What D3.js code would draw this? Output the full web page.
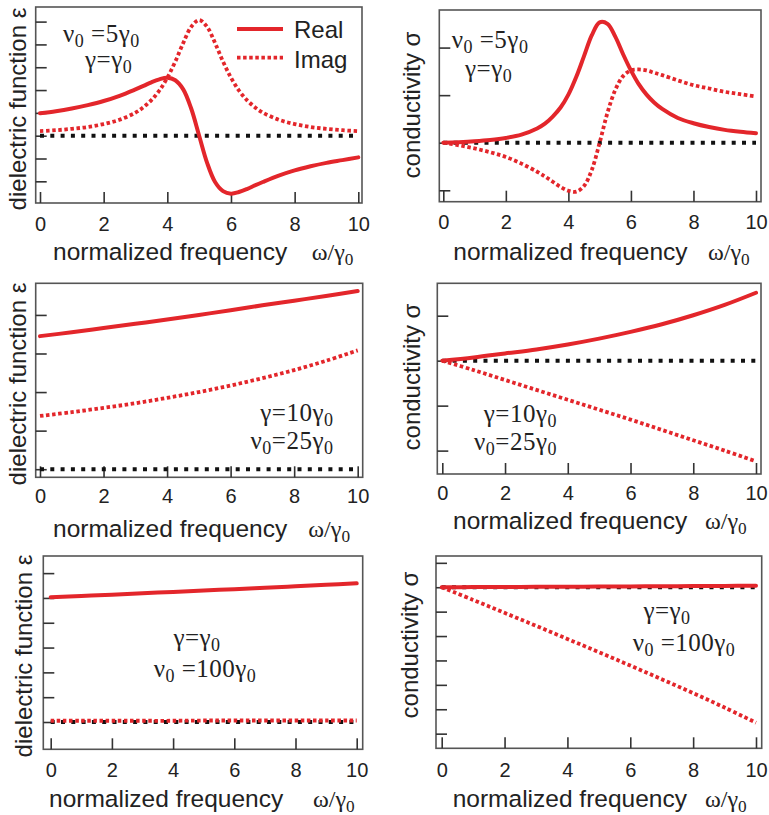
<!DOCTYPE html>
<html><head><meta charset="utf-8">
<script src="https://cdn.jsdelivr.net/npm/d3@7"></script>
<style>
html,body{margin:0;padding:0;background:#fff;}
svg{display:block;}
</style></head>
<body>
<svg id="chart" width="769" height="815"></svg>
<script>
// ---------- data (y in tick units) ----------
const xTickValues = [0, 2, 4, 6, 8, 10];
const xTickLabels = ["0", "2", "4", "6", "8", "10"];

// case A: nu0 = 5 gamma0, gamma = gamma0
const freqA = [0,0.5,1,1.5,2,2.5,3,3.25,3.5,3.75,4,4.25,4.5,4.75,5,5.25,5.5,5.75,6,6.25,6.5,6.75,7,7.5,8,8.5,9,9.5,10];
const epsRealA = [0.98,1.07,1.19,1.34,1.52,1.75,2.03,2.18,2.34,2.47,2.54,2.43,2.03,1.19,0,-1.19,-2.03,-2.43,-2.54,-2.47,-2.34,-2.18,-2.03,-1.75,-1.52,-1.34,-1.19,-1.07,-0.95];
const epsImagA = [0.20,0.24,0.30,0.38,0.51,0.70,1.01,1.25,1.56,1.98,2.54,3.25,4.06,4.77,5.07,4.77,4.06,3.25,2.54,1.98,1.56,1.25,1.01,0.70,0.51,0.38,0.30,0.24,0.20];
const sigRealA = [0,0.012,0.030,0.057,0.10,0.17,0.30,0.40,0.55,0.74,1.01,1.38,1.82,2.26,2.53,2.50,2.23,1.86,1.52,1.23,1.01,0.84,0.71,0.52,0.41,0.33,0.27,0.23,0.20];
const sigImagA = [0,-0.054,-0.12,-0.20,-0.30,-0.44,-0.61,-0.71,-0.82,-0.93,-1.01,-1.03,-0.91,-0.57,0,0.63,1.11,1.40,1.52,1.54,1.52,1.47,1.42,1.31,1.21,1.14,1.07,1.02,0.97];

// case B: gamma = 10 gamma0, nu0 = 25 gamma0
const freqB = [0,1,2,3,4,5,6,7,8,9,10];
const epsRealB = [3.45,3.55,3.66,3.77,3.88,4.00,4.12,4.25,4.37,4.49,4.62];
const epsImagB = [1.38,1.48,1.59,1.71,1.85,2.00,2.17,2.36,2.57,2.81,3.08];
const sigRealB = [0,0.07,0.16,0.25,0.36,0.49,0.64,0.81,1.01,1.24,1.51];
const sigImagB = [0,-0.21,-0.43,-0.65,-0.87,-1.09,-1.31,-1.54,-1.77,-2.00,-2.24];

// case C: gamma = gamma0, nu0 = 100 gamma0
const freqC = [0,1,2,3,4,5,6,7,8,9,10];
const epsRealC = [5.03,5.08,5.13,5.19,5.24,5.30,5.35,5.41,5.47,5.53,5.59];
const epsImagC = [0.05,0.05,0.05,0.05,0.05,0.06,0.06,0.06,0.06,0.06,0.06];
const sigRealC = [0,0.005,0.010,0.016,0.022,0.028,0.034,0.040,0.047,0.054,0.062];
const sigImagC = [0,-0.52,-1.05,-1.58,-2.12,-2.66,-3.21,-3.77,-4.34,-4.93,-5.55];

const yTicksA_eps = [-2,-1,0,1,2,3,4,5];
const yTicksA_sig = [-1,0,1,2];
const yTicksB_eps = [0,1,2,3,4];
const yTicksB_sig = [-2,-1,0,1];
const yTicksC_eps = [0,1,2,3,4,5,6];
const yTicksC_sig = [-6,-5,-4,-3,-2,-1,0,1];

const legendLabels = ["Real", "Imag"];

// ---------- layout ----------
const RED = "#e3262b";
const svg = d3.select("#chart");

const panels = [
  {frame:[35.7,362,7,203], x0:40, x10:358.3, ydom:[-2.95,5.64], freq:freqA, re:epsRealA, im:epsImagA, yticks:yTicksA_eps,
   ylab:"dielectric function ε", ylabX:25.5, ylabY:109, tickBase:231, axBase:260, axX:53, omX:311.7,
   notes:[{x:63,y:42,anchor:"start",parts:[["ν",0],["0",1],[" =5γ",0],["0",1]]},{x:85,y:68,anchor:"start",parts:[["γ=γ",0],["0",1]]}], legend:true},
  {frame:[439.3,761,10,201.7], x0:443.3, x10:756, ydom:[-1.24,2.79], freq:freqA, re:sigRealA, im:sigImagA, yticks:yTicksA_sig,
   ylab:"conductivity σ", ylabX:420, ylabY:105, tickBase:229.3, axBase:260, axX:453.3, omX:708,
   notes:[{x:451.7,y:48,anchor:"start",parts:[["ν",0],["0",1],[" =5γ",0],["0",1]]},{x:465,y:77,anchor:"start",parts:[["γ=γ",0],["0",1]]}]},
  {frame:[35.7,362.7,283.3,477.3], x0:40, x10:357.7, ydom:[-0.21,4.82], freq:freqB, re:epsRealB, im:epsImagB, yticks:yTicksB_eps,
   ylab:"dielectric function ε", ylabX:25.5, ylabY:384, tickBase:503.3, axBase:537, axX:53, omX:308.3,
   notes:[{x:333.5,y:421,anchor:"end",parts:[["γ=10γ",0],["0",1]]},{x:333.5,y:449,anchor:"end",parts:[["ν",0],["0",1],["=25γ",0],["0",1]]}]},
  {frame:[437.3,761,283.3,474], x0:442.3, x10:756, ydom:[-2.52,1.72], freq:freqB, re:sigRealB, im:sigImagB, yticks:yTicksB_sig,
   ylab:"conductivity σ", ylabX:420, ylabY:377, tickBase:500, axBase:529, axX:453, omX:705,
   notes:[{x:557,y:422,anchor:"end",parts:[["γ=10γ",0],["0",1]]},{x:557,y:450,anchor:"end",parts:[["ν",0],["0",1],["=25γ",0],["0",1]]}]},
  {frame:[43.3,362.7,556,749.3], x0:50.7, x10:356.7, ydom:[-1.1,6.69], freq:freqC, re:epsRealC, im:epsImagC, yticks:yTicksC_eps,
   ylab:"dielectric function ε", ylabX:32, ylabY:656, tickBase:776.7, axBase:807, axX:49, omX:313,
   notes:[{x:197,y:646,anchor:"middle",parts:[["γ=γ",0],["0",1]]},{x:205,y:677,anchor:"middle",parts:[["ν",0],["0",1],[" =100γ",0],["0",1]]}]},
  {frame:[436,761.7,556,748.3], x0:441.7, x10:756, ydom:[-6.6,1.28], freq:freqC, re:sigRealC, im:sigImagC, yticks:yTicksC_sig,
   ylab:"conductivity σ", ylabX:418, ylabY:645, tickBase:776.7, axBase:807, axX:452.7, omX:705,
   notes:[{x:667,y:619,anchor:"middle",parts:[["γ=γ",0],["0",1]]},{x:684,y:651,anchor:"middle",parts:[["ν",0],["0",1],[" =100γ",0],["0",1]]}]}
];

function formula(g, x, y, parts, anchor, size, spacing) {
  const t = g.append("text").attr("x", x).attr("y", y).attr("text-anchor", anchor)
    .attr("font-family", "'Liberation Serif','Times New Roman',serif").attr("font-size", size).attr("fill", "#222")
    .attr("letter-spacing", spacing || 0);
  let shifted = false;
  parts.forEach(([s, sub]) => {
    const ts = t.append("tspan").text(s);
    if (sub && !shifted) { ts.attr("dy", size * 0.2).attr("font-size", size * 0.72); shifted = true; }
    else if (!sub && shifted) { ts.attr("dy", -size * 0.2); shifted = false; }
  });
  return t;
}

panels.forEach(p => {
  const [L, R, T, B] = p.frame;
  const g = svg.append("g");
  const x = d3.scaleLinear().domain([0, 10]).range([p.x0, p.x10]);
  const y = d3.scaleLinear().domain(p.ydom).range([B, T]);

  // frame
  g.append("rect").attr("x", L).attr("y", T).attr("width", R - L).attr("height", B - T)
    .attr("fill", "none").attr("stroke", "#555").attr("stroke-width", 1.6);

  // x axis ticks (inward) and labels
  const xa = d3.axisBottom(x).tickValues(xTickValues).tickSize(-11).tickFormat((d, i) => xTickLabels[i]).tickPadding(16);
  const gx = g.append("g").attr("transform", `translate(0,${B})`).call(xa);
  gx.select(".domain").remove();
  gx.selectAll(".tick line").attr("stroke", "#333").attr("stroke-width", 1.6);
  gx.selectAll(".tick text").attr("font-family", "'Liberation Sans',Arial,sans-serif").attr("font-size", 20)
    .attr("fill", "#222").attr("y", null).attr("dy", null)
    .attr("transform", `translate(0,${p.tickBase - B})`);

  // y axis ticks (inward, no labels)
  const ya = d3.axisLeft(y).tickValues(p.yticks).tickSize(-11).tickFormat("");
  const gy = g.append("g").attr("transform", `translate(${L},0)`).call(ya);
  gy.select(".domain").remove();
  gy.selectAll(".tick line").attr("stroke", "#333").attr("stroke-width", 1.6);

  // zero line
  const line = d3.line().x(d => x(d[0])).y(d => y(d[1])).curve(d3.curveCatmullRom.alpha(0.5));
  g.append("path").datum([[0, 0], [10, 0]]).attr("d", line)
    .attr("fill", "none").attr("stroke", "#111").attr("stroke-width", 4).attr("stroke-dasharray", "4,6.3");

  // imag (dotted) then real (solid)
  g.append("path").datum(p.freq.map((f, i) => [f, p.im[i]])).attr("d", line)
    .attr("fill", "none").attr("stroke", RED).attr("stroke-width", 3.8).attr("stroke-dasharray", "3.5,2.6");
  g.append("path").datum(p.freq.map((f, i) => [f, p.re[i]])).attr("d", line)
    .attr("fill", "none").attr("stroke", RED).attr("stroke-width", 4).attr("stroke-linecap", "round");

  // axis labels
  g.append("text").attr("x", p.axX).attr("y", p.axBase).text("normalized frequency")
    .attr("font-family", "'Liberation Sans',Arial,sans-serif").attr("font-size", 24.5).attr("fill", "#222");
  formula(g, p.omX, p.axBase, [["ω/γ", 0], ["0", 1]], "start", 24);
  g.append("text").attr("transform", `translate(${p.ylabX},${p.ylabY}) rotate(-90)`).attr("text-anchor", "middle")
    .text(p.ylab).attr("font-family", "'Liberation Sans',Arial,sans-serif").attr("font-size", 24).attr("fill", "#222");

  // annotations
  p.notes.forEach(n => formula(g, n.x, n.y, n.parts, n.anchor, 25, 0.5));

  if (p.legend) {
    const lg = g.append("g");
    lg.append("line").attr("x1", 237).attr("x2", 283).attr("y1", 29).attr("y2", 29)
      .attr("stroke", RED).attr("stroke-width", 4);
    lg.append("line").attr("x1", 237).attr("x2", 283).attr("y1", 57.7).attr("y2", 57.7)
      .attr("stroke", RED).attr("stroke-width", 3.8).attr("stroke-dasharray", "3.5,2.6");
    lg.selectAll("text").data(legendLabels).join("text")
      .attr("x", 294).attr("y", (d, i) => 38 + i * 29.5).text(d => d)
      .attr("font-family", "'Liberation Sans',Arial,sans-serif").attr("font-size", 24).attr("fill", "#222");
  }
});
</script>
</body></html>
